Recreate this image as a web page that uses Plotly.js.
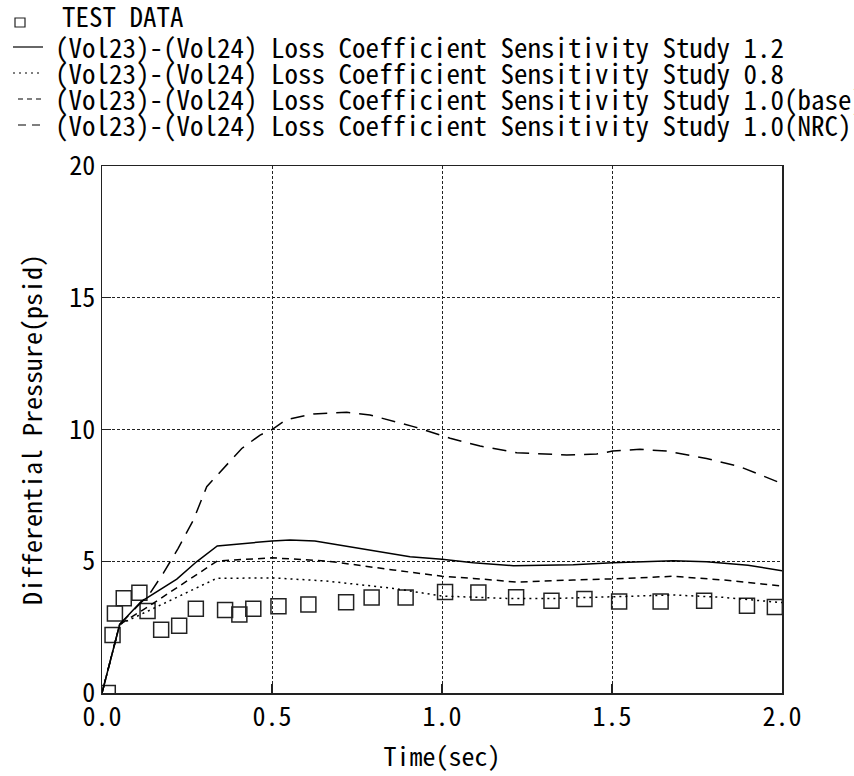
<!DOCTYPE html>
<html>
<head>
<meta charset="utf-8">
<script src="https://cdn.plot.ly/plotly-3.0.1.min.js"></script>
<style>html,body{margin:0;padding:0;background:#fff;overflow:hidden}#chart{width:854px;height:776px}</style>
</head>
<body>
<div id="chart"></div>
<script>
// ---- data ----
const seriesNames = [
  "TEST DATA",
  "(Vol23)-(Vol24) Loss Coefficient Sensitivity Study 1.2",
  "(Vol23)-(Vol24) Loss Coefficient Sensitivity Study 0.8",
  "(Vol23)-(Vol24) Loss Coefficient Sensitivity Study 1.0(base)",
  "(Vol23)-(Vol24) Loss Coefficient Sensitivity Study 1.0(NRC)"
];

const testT = [0.017, 0.031, 0.038, 0.064, 0.11, 0.134, 0.174, 0.227, 0.276, 0.362, 0.404, 0.445, 0.519, 0.607, 0.718, 0.793, 0.893, 1.009, 1.107, 1.218, 1.322, 1.419, 1.521, 1.643, 1.771, 1.897, 1.979];
const testP = [0.0, 2.2, 3.02, 3.6, 3.8, 3.11, 2.4, 2.55, 3.2, 3.15, 2.98, 3.2, 3.29, 3.36, 3.44, 3.62, 3.62, 3.83, 3.81, 3.63, 3.5, 3.57, 3.47, 3.47, 3.5, 3.31, 3.26];

const s12T = [0, 0.052, 0.115, 0.22, 0.278, 0.339, 0.5, 0.553, 0.626, 0.759, 0.906, 1.0, 1.092, 1.21, 1.386, 1.502, 1.68, 1.778, 1.9, 2.0];
const s12P = [0, 2.6, 3.47, 4.32, 4.98, 5.58, 5.77, 5.81, 5.77, 5.49, 5.17, 5.08, 4.94, 4.83, 4.87, 4.94, 5.02, 4.98, 4.85, 4.64];

const s08T = [0, 0.052, 0.337, 0.5, 0.66, 0.857, 1.0, 1.19, 1.337, 1.502, 1.68, 1.827, 2.0];
const s08P = [0, 2.6, 4.35, 4.37, 4.25, 3.97, 3.68, 3.59, 3.59, 3.65, 3.72, 3.63, 3.43];

const sbT = [0, 0.052, 0.136, 0.24, 0.339, 0.5, 0.661, 0.857, 1.0, 1.092, 1.22, 1.386, 1.502, 1.68, 1.827, 2.0];
const sbP = [0, 2.6, 3.28, 4.15, 5.01, 5.13, 5.01, 4.67, 4.43, 4.35, 4.21, 4.29, 4.33, 4.43, 4.29, 4.06];

const snT = [0, 0.052, 0.141, 0.18, 0.224, 0.269, 0.308, 0.357, 0.411, 0.465, 0.5, 0.543, 0.622, 0.72, 0.788, 0.916, 1.024, 1.112, 1.22, 1.367, 1.455, 1.502, 1.582, 1.66, 1.778, 1.876, 1.974, 2.0];
const snP = [0, 2.6, 3.78, 4.54, 5.49, 6.57, 7.83, 8.53, 9.28, 9.79, 10.0, 10.38, 10.59, 10.65, 10.55, 10.11, 9.67, 9.37, 9.12, 9.03, 9.07, 9.18, 9.25, 9.18, 8.9, 8.59, 8.08, 7.95];

const xTickVals = [0, 0.5, 1.0, 1.5, 2.0];
const yTickVals = [0, 5, 10, 15, 20];

// ---- styling ----
const FONT = '"Noto Sans Mono CJK JP", "DejaVu Sans Mono", monospace';
const FS = 26;
const LFS = 27;
const dashes = ["solid", "2px,4px", "7px,5px", "14px,9px"];

const traces = [
  {x: testT, y: testP, name: seriesNames[0], mode: 'markers', type: 'scatter',
   marker: {symbol: 'square-open', size: 15, color: '#222', line: {width: 1.5, color: '#222'}}},
  {x: s12T, y: s12P, name: seriesNames[1], mode: 'lines', line: {color: '#000', width: 1.5, dash: dashes[0]}},
  {x: s08T, y: s08P, name: seriesNames[2], mode: 'lines', line: {color: '#000', width: 1.5, dash: dashes[1]}},
  {x: sbT, y: sbP, name: seriesNames[3], mode: 'lines', line: {color: '#000', width: 1.5, dash: dashes[2]}},
  {x: snT, y: snP, name: seriesNames[4], mode: 'lines', line: {color: '#000', width: 1.5, dash: dashes[3]}}
];

// legend drawn manually (paper coords from page pixels)
const L = 102, T = 166, PW = 680, PH = 527;
const px = v => (v - L) / PW;
const py = v => (T + PH - v) / PH;
const rowY = [16, 47, 73, 99, 125];

const annotations = seriesNames.map((n, i) => ({
  text: n, showarrow: false, xref: 'paper', yref: 'paper',
  x: px(i === 0 ? 60 : 53), y: py(rowY[i]), xanchor: 'left', yanchor: 'middle',
  font: {family: FONT, size: LFS, color: '#000'}
}));

const shapes = [
  {type: 'rect', xref: 'paper', yref: 'paper', x0: px(15), x1: px(25), y0: py(18), y1: py(27),
   line: {color: '#222', width: 1.2}},
];
for (let i = 1; i < 5; i++) {
  shapes.push({type: 'line', xref: 'paper', yref: 'paper',
    x0: px(i >= 3 ? 18 : 13), x1: px(43), y0: py(rowY[i]), y1: py(rowY[i]),
    line: {color: '#000', width: 1.2, dash: i === 3 ? '5px,4px' : (i === 4 ? '8px,6px' : dashes[i - 1])}});
}

const axisCommon = {
  showline: true, linecolor: '#222', linewidth: 1.5, mirror: true,
  ticks: 'inside', ticklen: 9, tickwidth: 1.2, tickcolor: '#222',
  showgrid: true, gridcolor: '#222', gridwidth: 1, griddash: '3px,2px',
  zeroline: false, tickfont: {family: FONT, size: FS, color: '#000'}
};

const layout = {
  width: 854, height: 776,
  margin: {l: L, r: 854 - L - PW, t: T, b: 776 - T - PH},
  paper_bgcolor: '#fff', plot_bgcolor: '#fff',
  showlegend: false,
  font: {family: FONT, size: FS, color: '#000'},
  xaxis: Object.assign({}, axisCommon, {
    range: [0, 2], tickvals: xTickVals, tickformat: '.1f',
    title: {text: 'Time(sec)', font: {family: FONT, size: FS, color: '#000'}, standoff: 16}
  }),
  yaxis: Object.assign({}, axisCommon, {
    range: [0, 20], tickvals: yTickVals, tickformat: 'd',
    title: {text: 'Differential Pressure(psid)', font: {family: FONT, size: FS, color: '#000'}, standoff: 19}
  }),
  annotations: annotations,
  shapes: shapes
};

Plotly.newPlot('chart', traces, layout, {displayModeBar: false, staticPlot: true});
</script>
</body>
</html>
